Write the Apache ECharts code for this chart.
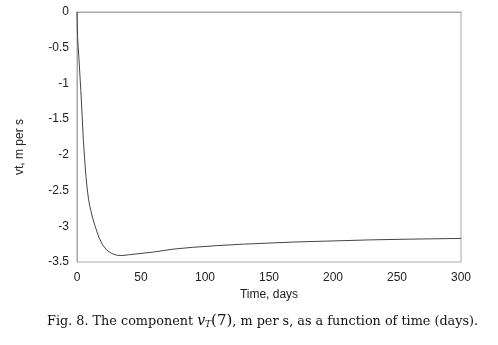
<!DOCTYPE html>
<html>
<head>
<meta charset="utf-8">
<script src="https://cdn.jsdelivr.net/npm/echarts@6/dist/echarts.min.js"></script>
<style>
  html, body { margin: 0; padding: 0; background: #fff; }
  #chart { width: 498px; height: 345px; }
</style>
</head>
<body>
<div id="chart"></div>
<script>
// time in days and the component vT(7), m per s
const days = [0, 0.4, 1, 2, 3, 4, 5, 6, 7, 8, 9, 10, 12, 14, 17, 20, 23, 27, 31, 35, 40, 50, 60, 75, 90, 110, 130, 150, 170, 200, 230, 260, 300];
const vt = [0, -0.33, -0.5, -0.8, -1.1, -1.45, -1.8, -2.07, -2.3, -2.48, -2.62, -2.72, -2.87, -2.99, -3.15, -3.26, -3.33, -3.38, -3.405, -3.41, -3.40, -3.38, -3.36, -3.32, -3.295, -3.27, -3.25, -3.235, -3.22, -3.205, -3.19, -3.18, -3.17];
const xTicks = [0, 50, 100, 150, 200, 250, 300];
const yTicks = [0, -0.5, -1, -1.5, -2, -2.5, -3, -3.5];

const points = days.map((d, i) => [d, vt[i]]);
const labelFont = "Liberation Sans";
const captionFont = "DejaVu Serif";
const frameColor = "#a8a8a8";

let myChart = echarts.init(document.getElementById("chart"));
let option = {
  animation: false,
  grid: {
    left: 77,
    right: 37,
    top: 12,
    bottom: 83,
    show: true,
    borderColor: frameColor,
    borderWidth: 1,
  },
  xAxis: {
    type: "value",
    min: xTicks[0],
    max: xTicks[xTicks.length - 1],
    interval: 50,
    name: "Time, days",
    nameLocation: "middle",
    nameGap: 23,
    nameTextStyle: { fontFamily: labelFont, fontSize: 12, color: "#222" },
    axisLine: { lineStyle: { color: frameColor, width: 1 } },
    axisTick: { show: false },
    axisLabel: { fontFamily: labelFont, fontSize: 12, color: "#222", margin: 10 },
    splitLine: { show: false },
  },
  yAxis: {
    type: "value",
    min: yTicks[yTicks.length - 1],
    max: yTicks[0],
    interval: 0.5,
    axisLine: { show: true, lineStyle: { color: frameColor, width: 1 } },
    axisTick: { show: false },
    axisLabel: { fontFamily: labelFont, fontSize: 12, color: "#222", margin: 8 },
    splitLine: { show: false },
  },
  graphic: [
    {
      type: "text",
      x: 20,
      y: 147,
      rotation: Math.PI / 2,
      style: {
        text: "vt, m per s",
        font: "12px " + labelFont,
        fill: "#222",
        align: "center",
        verticalAlign: "middle",
      },
    },
    {
      type: "text",
      left: 47,
      top: 314,
      style: {
        rich: {
          n: { fontFamily: captionFont, fontSize: 12.8, fill: "#111" },
          v: { fontFamily: captionFont, fontStyle: "italic", fontSize: 14, fill: "#111" },
          s: { fontFamily: captionFont, fontStyle: "italic", fontSize: 9, fill: "#111", verticalAlign: "bottom", padding: [6, 0, 0, 0] },
          p: { fontFamily: captionFont, fontSize: 15, fill: "#111" },
        },
        text: "{n|Fig. 8. The component }{v|v}{s|T}{p|(7)}{n|, m per s, as a function of time (days).}",
      },
    },
  ],
  series: [
    {
      type: "line",
      data: points,
      showSymbol: false,
      smooth: false,
      lineStyle: { color: "#444", width: 1 },
    },
  ],
};
myChart.setOption(option);
</script>
</body>
</html>
